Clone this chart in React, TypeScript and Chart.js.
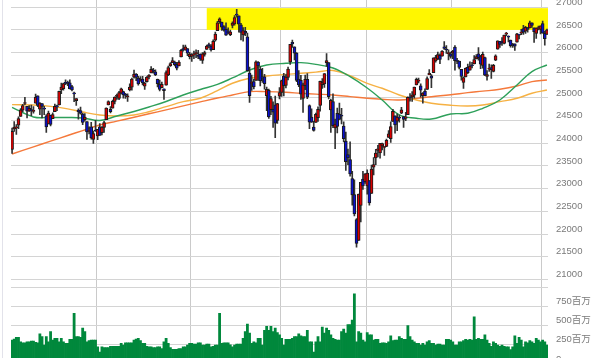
import React, { useEffect, useRef } from 'react';
import { Chart, registerables } from 'chart.js';

Chart.register(...registerables);

const dates: string[] = [
  '2018/05/04','2018/05/07','2018/05/08','2018/05/09','2018/05/10','2018/05/11','2018/05/14','2018/05/15','2018/05/16','2018/05/17','2018/05/18','2018/05/21','2018/05/22','2018/05/23','2018/05/24','2018/05/25','2018/05/29','2018/05/30','2018/05/31',
  '2018/06/01','2018/06/04','2018/06/05','2018/06/06','2018/06/07','2018/06/08','2018/06/11','2018/06/12','2018/06/13','2018/06/14','2018/06/15','2018/06/18','2018/06/19','2018/06/20','2018/06/21','2018/06/22','2018/06/25','2018/06/26','2018/06/27','2018/06/28','2018/06/29',
  '2018/07/02','2018/07/03','2018/07/05','2018/07/06','2018/07/09','2018/07/10','2018/07/11','2018/07/12','2018/07/13','2018/07/16','2018/07/17','2018/07/18','2018/07/19','2018/07/20','2018/07/23','2018/07/24','2018/07/25','2018/07/26','2018/07/27','2018/07/30','2018/07/31',
  '2018/08/01','2018/08/02','2018/08/03','2018/08/06','2018/08/07','2018/08/08','2018/08/09','2018/08/10','2018/08/13','2018/08/14','2018/08/15','2018/08/16','2018/08/17','2018/08/20','2018/08/21','2018/08/22','2018/08/23','2018/08/24','2018/08/27','2018/08/28','2018/08/29','2018/08/30','2018/08/31',
  '2018/09/04','2018/09/05','2018/09/06','2018/09/07','2018/09/10','2018/09/11','2018/09/12','2018/09/13','2018/09/14','2018/09/17','2018/09/18','2018/09/19','2018/09/20','2018/09/21','2018/09/24','2018/09/25','2018/09/26','2018/09/27','2018/09/28',
  '2018/10/01','2018/10/02','2018/10/03','2018/10/04','2018/10/05','2018/10/08','2018/10/09','2018/10/10','2018/10/11','2018/10/12','2018/10/15','2018/10/16','2018/10/17','2018/10/18','2018/10/19','2018/10/22','2018/10/23','2018/10/24','2018/10/25','2018/10/26','2018/10/29','2018/10/30','2018/10/31',
  '2018/11/01','2018/11/02','2018/11/05','2018/11/06','2018/11/07','2018/11/08','2018/11/09','2018/11/12','2018/11/13','2018/11/14','2018/11/15','2018/11/16','2018/11/19','2018/11/20','2018/11/21','2018/11/23','2018/11/26','2018/11/27','2018/11/28','2018/11/29','2018/11/30',
  '2018/12/03','2018/12/04','2018/12/06','2018/12/07','2018/12/10','2018/12/11','2018/12/12','2018/12/13','2018/12/14','2018/12/17','2018/12/18','2018/12/19','2018/12/20','2018/12/21','2018/12/24','2018/12/26','2018/12/27','2018/12/28','2018/12/31',
  '2019/01/02','2019/01/03','2019/01/04','2019/01/07','2019/01/08','2019/01/09','2019/01/10','2019/01/11','2019/01/14','2019/01/15','2019/01/16','2019/01/17','2019/01/18','2019/01/22','2019/01/23','2019/01/24','2019/01/25','2019/01/28','2019/01/29','2019/01/30','2019/01/31',
  '2019/02/01','2019/02/04','2019/02/05','2019/02/06','2019/02/07','2019/02/08','2019/02/11','2019/02/12','2019/02/13','2019/02/14','2019/02/15','2019/02/19','2019/02/20','2019/02/21','2019/02/22','2019/02/25','2019/02/26','2019/02/27','2019/02/28',
  '2019/03/01','2019/03/04','2019/03/05','2019/03/06','2019/03/07','2019/03/08','2019/03/11','2019/03/12','2019/03/13','2019/03/14','2019/03/15','2019/03/18','2019/03/19','2019/03/20','2019/03/21','2019/03/22','2019/03/25','2019/03/26','2019/03/27','2019/03/28','2019/03/29',
  '2019/04/01','2019/04/02','2019/04/03','2019/04/04','2019/04/05','2019/04/08','2019/04/09','2019/04/10','2019/04/11','2019/04/12','2019/04/15','2019/04/16','2019/04/17','2019/04/18','2019/04/22','2019/04/23','2019/04/24','2019/04/25','2019/04/26','2019/04/29','2019/04/30',
  '2019/05/01','2019/05/02','2019/05/03',
];

const opens: number[] = [
  23865,24317,24341,24399,24591,24730,24878,24818,24711,24746,24703,24883,25047,24752,24876,24772,24604,24425,24617,
  24542,24700,24830,24848,25177,25207,25336,25341,25333,25250,25093,24938,24733,24721,24643,24524,24481,24263,24362,24088,24294,
  24161,24362,24232,24351,24523,24846,24749,24777,24924,25033,24992,25108,25138,25066,25026,25176,25237,25459,25527,25441,25368,
  25414,25262,25360,25462,25553,25616,25578,25410,25306,25225,25202,25280,25507,25705,25780,25792,25743,25707,25906,26089,26053,26090,25913,
  25916,25946,25976,25929,25965,25826,25961,26068,26161,26142,26063,26274,26482,26683,26674,26574,26516,26445,26395,
  26598,26633,26833,26811,26615,26389,26467,26347,25548,25321,25363,25384,25789,25637,25454,25468,25052,25166,24741,24748,24849,24503,25039,
  25122,25483,25274,25452,25792,26228,26125,25988,25414,25389,24990,25269,25413,24831,24578,24360,24462,24563,24835,25295,25309,
  25779,25780,24737,24918,24341,24659,24644,24615,24379,24050,23751,23639,23224,22871,22317,21857,22629,23213,23153,
  23059,23177,22894,23474,23680,23844,23789,23940,23910,23932,24130,24100,24480,24606,24486,24581,24666,24589,24551,24631,25003,
  25025,25062,25286,25371,25265,25048,25153,25186,25511,25490,25560,25815,25863,25939,25920,26126,26061,25979,25975,
  25992,26123,25832,25815,25633,25342,25465,25678,25613,25722,25751,25862,25971,25911,25715,25890,25473,25634,25669,25583,25834,
  26076,26249,26255,26201,26409,26342,26277,26174,26192,26229,26399,26429,26530,26474,26525,26547,26659,26548,26425,26523,26509,
  26639,26427,26403,
];

const highs: number[] = [
  24334,24479,24412,24586,24766,24859,25012,24818,24834,24842,24812,25086,25047,24898,24876,24813,24635,24710,24621,
  24674,24866,24843,25153,25326,25326,25402,25372,25398,25276,25130,24988,24759,24799,24669,24656,24481,24366,24464,24271,24508,
  24307,24435,24368,24482,24784,24935,24809,24951,25025,25083,25144,25216,25153,25101,25093,25310,25437,25617,25539,25475,25470,
  25475,25344,25474,25518,25693,25652,25621,25417,25393,25351,25202,25598,25705,25781,25888,25813,25786,25825,26070,26167,26167,26091,26007,
  25980,26036,26062,26052,25971,26001,26035,26165,26211,26176,26283,26451,26690,26769,26674,26598,26656,26545,26499,
  26679,26817,26952,26811,26644,26552,26560,26429,25681,25504,25419,25819,25801,25691,25653,25519,25238,25196,25038,24916,25041,24880,25230,
  25396,25541,25514,25679,26185,26277,26125,26002,25603,25501,25330,25505,25536,24851,24760,24483,24669,24803,25374,25425,25538,
  25980,25781,24975,25090,24537,24778,24885,24773,24476,24250,23875,24034,23380,23196,22339,22879,23140,23382,23333,
  23413,23177,23518,23688,23865,23953,24002,24005,23910,24093,24278,24472,24750,24607,24649,24624,24793,24589,24684,25026,25097,
  25140,25239,25440,25439,25314,25117,25199,25464,25626,25516,25883,25941,26014,25975,26042,26242,26154,26061,26011,
  26050,26156,25873,25815,25633,25466,25666,25747,25794,25785,25934,25956,26110,25941,26009,25902,25602,25745,25728,25741,25950,
  26259,26249,26332,26385,26445,26368,26277,26207,26192,26424,26403,26511,26599,26580,26560,26695,26659,26548,26544,26585,26593,
  26696,26475,26520,
];

const lows: number[] = [
  23778,24263,24198,24323,24591,24697,24854,24561,24705,24609,24664,24883,24808,24633,24562,24631,24242,24425,24385,
  24542,24700,24720,24848,25095,25173,25293,25270,25201,25153,24917,24837,24534,24645,24410,24489,24084,24209,24092,23997,24263,
  24082,24174,24183,24241,24523,24846,24669,24777,24867,24968,24963,25087,24995,24988,24926,25156,25172,25438,25379,25280,25368,
  25286,25187,25349,25418,25553,25547,25491,25241,25153,25225,24966,25280,25493,25694,25780,25705,25617,25707,25906,26030,26052,25934,25861,
  25803,25869,25888,25865,25830,25764,25920,26068,26108,26032,26063,26254,26482,26643,26489,26474,26378,26417,26376,
  26545,26607,26783,26453,26278,26251,26374,25590,24900,25167,25200,25384,25384,25268,25345,25195,24720,24550,24632,24348,24123,24438,24979,
  25035,25047,25221,25398,25740,26117,25841,25357,25250,24966,24681,25182,24985,24322,24458,24269,24462,24485,24709,25209,25232,
  25693,24981,24242,24345,23881,24229,24527,24427,24031,23403,23527,23275,22638,22397,21712,21857,22267,22981,23118,
  22879,22638,22894,23301,23530,23701,23675,23853,23735,23925,24130,24018,24480,24221,24278,24468,24651,24348,24498,24631,24929,
  24924,24993,25286,25331,25015,24884,25045,25186,25511,25228,25560,25791,25844,25757,25920,26072,25980,25839,25880,
  25869,25611,25756,25640,25391,25208,25465,25535,25613,25663,25751,25862,25832,25647,25658,25490,25392,25585,25433,25574,25823,
  26076,26116,26161,26193,26375,26234,26120,26115,26047,26229,26300,26393,26400,26422,26450,26547,26556,26225,26312,26499,26412,
  26430,26163,26403,
];

const closes: number[] = [
  24263,24357,24360,24543,24740,24831,24899,24706,24769,24714,24715,25013,24834,24887,24812,24753,24361,24668,24416,
  24635,24814,24800,25146,25241,25317,25322,25321,25201,25175,25090,24987,24700,24658,24462,24581,24253,24283,24118,24216,24271,
  24307,24175,24357,24456,24777,24920,24700,24925,25019,25064,25120,25199,25065,25058,25044,25242,25414,25527,25451,25307,25415,
  25334,25326,25463,25502,25629,25584,25509,25313,25188,25300,25162,25559,25669,25759,25822,25734,25657,25790,26050,26064,26125,25987,25965,
  25952,25975,25996,25917,25857,25971,25999,26146,26155,26062,26247,26406,26657,26744,26562,26492,26385,26440,26458,
  26651,26774,26828,26627,26447,26487,26431,25599,25053,25340,25251,25798,25707,25379,25444,25317,25191,24583,24985,24688,24443,24875,25116,
  25381,25271,25462,25635,26180,26191,25989,25387,25286,25081,25289,25413,25017,24466,24465,24286,24640,24749,25366,25339,25538,
  25826,25027,24948,24389,24423,24370,24527,24597,24101,23593,23676,23324,22860,22445,21792,22878,23139,23062,23327,
  23346,22686,23433,23531,23787,23879,24002,23996,23910,24066,24207,24370,24706,24404,24576,24553,24737,24528,24580,25015,25000,
  25064,25239,25412,25390,25170,25106,25053,25426,25543,25439,25883,25891,25954,25851,26032,26092,26058,25985,25916,
  26026,25820,25807,25673,25473,25450,25651,25555,25703,25710,25849,25914,25887,25746,25963,25502,25517,25658,25626,25717,25929,
  26258,26179,26218,26385,26425,26341,26151,26157,26143,26412,26385,26453,26450,26560,26511,26656,26597,26462,26543,26554,26593,
  26430,26308,26505,
];

// volume in 百万 (millions)
const volumes: number[] = [
  313,326,348,348,290,277,277,290,290,299,299,281,277,393,357,246,357,290,424,313,335,335,290,335,290,268,268,322,322,660,357,357,348,469,424,290,304,313,313,313,223,157,223,215,215,215,232,232,232,232,232,
  268,246,277,277,277,277,313,326,335,304,268,268,232,223,223,215,215,223,223,201,290,335,268,215,192,192,192,201,201,223,223,246,268,268,259,259,277,277,246,246,259,259,223,232,246,246,660,268,277,277,277,250,
  223,246,259,259,259,335,424,522,402,268,290,277,335,335,246,438,491,438,491,424,469,411,380,335,246,322,322,322,335,357,357,393,366,357,357,438,290,290,157,290,357,290,482,402,469,438,380,335,322,313,313,
  424,455,402,513,513,571,914,290,424,402,313,290,411,380,380,313,322,322,268,277,277,268,290,366,304,313,313,357,335,322,322,500,357,313,290,268,268,246,268,246,290,304,268,268,246,259,259,246,246,322,322,
  313,290,246,246,290,290,304,322,313,322,313,616,322,335,322,322,380,313,268,232,290,268,246,232,246,232,223,223,187,223,366,268,348,313,223,290,277,304,290,268,335,313,290,313,290,246,
];

// moving averages, sampled at these candle indices
const maIdx: number[] = [0,10,18,26,33,41,49,57,64,72,80,88,96,103,111,119,128,135,142,150,158,166,173,181,189,196,205,213,220,228,236,243,250];
const maGreen: number[] = [24794,24581,24570,24570,24559,24503,24603,24702,24801,24922,25066,25187,25300,25441,25617,25727,25765,25778,25740,25660,25469,25220,24955,24625,24552,24536,24647,24662,24772,24955,25286,25580,25727];
const maYellow: number[] = [24852,24845,24815,24760,24690,24625,24603,24625,24697,24808,24918,24993,25160,25324,25434,25485,25520,25544,25570,25605,25490,25320,25214,25066,24955,24883,24840,24823,24845,24918,24993,25103,25176];
const maOrange: number[] = [23765,23923,24047,24172,24281,24404,24488,24574,24651,24737,24825,24914,25000,25066,25139,25139,25125,25103,25085,25066,25030,24993,24970,24955,24990,25028,25070,25117,25150,25191,25264,25359,25397];

const priceTicks: number[] = [21000,21500,22000,22500,23000,23500,24000,24500,25000,25500,26000,26500,27000];
const volumeTicks: number[] = [0,250,500,750,1000];
const monthLineDates: string[] = ['2018/07/02','2018/09/04','2018/11/01','2019/01/02','2019/03/01','2019/05/01'];
const highlightStart = '2018/09/13';
const highlightLow = 26500;
const highlightHigh = 26980;

const FONT = "'Liberation Sans', Arial, 'Noto Sans CJK JP', sans-serif";

const fitRight = (s: any) => {
  s.width = 52;
  s.paddingTop = 0;
  s.paddingBottom = 0;
  s.paddingLeft = 0;
  s.paddingRight = 0;
};

export default function App() {
  const ref = useRef<HTMLCanvasElement | null>(null);

  useEffect(() => {
    if (!ref.current) return;
    const monthSet = new Set(monthLineDates.map((d) => dates.indexOf(d)));

    const highlightPlugin = {
      id: 'highlightBox',
      beforeDatasetsDraw(chart: any) {
        const { ctx, chartArea, scales } = chart;
        const x0 = scales.x.getPixelForValue(dates.indexOf(highlightStart));
        const yTop = scales.y.getPixelForValue(highlightHigh);
        const yBot = scales.y.getPixelForValue(highlightLow);
        ctx.save();
        ctx.fillStyle = '#fff700';
        ctx.fillRect(x0, yTop, chartArea.right - x0, yBot - yTop);
        ctx.restore();
      },
    };

    const line = (vals: number[], color: string) => ({
      type: 'line' as const,
      data: maIdx.map((k, j) => ({ x: dates[k], y: vals[j] })),
      borderColor: color,
      borderWidth: 1.4,
      pointRadius: 0,
      tension: 0.4,
      yAxisID: 'y',
      order: 3,
    });

    const tickFont = { size: 9.5, family: FONT };

    const chart = new Chart(ref.current, {
      type: 'bar',
      data: {
        labels: dates,
        datasets: [
          {
            type: 'bar',
            data: opens.map((o, i) => [o, closes[i]]),
            backgroundColor: closes.map((c, i) => (c >= opens[i] ? '#d90000' : '#0a10d0')),
            borderColor: '#1a1a1a',
            borderWidth: 1,
            borderSkipped: false,
            barThickness: 3,
            minBarLength: 1,
            grouped: false,
            yAxisID: 'y',
            order: 1,
          } as any,
          {
            type: 'bar',
            data: lows.map((l, i) => [l, highs[i]]),
            backgroundColor: '#333333',
            barThickness: 1,
            grouped: false,
            yAxisID: 'y',
            order: 2,
          } as any,
          line(maGreen, '#2ea05a') as any,
          line(maYellow, '#f6b143') as any,
          line(maOrange, '#f5793b') as any,
          {
            type: 'bar',
            data: volumes,
            backgroundColor: '#00883c',
            barPercentage: 1,
            categoryPercentage: 1,
            grouped: false,
            yAxisID: 'v',
            order: 4,
          } as any,
        ],
      },
      options: {
        animation: false,
        responsive: false,
        devicePixelRatio: 1,
        layout: { padding: { left: 11, right: 0, top: 0, bottom: 0 } },
        plugins: { legend: { display: false }, tooltip: { enabled: false } },
        scales: {
          x: {
            type: 'category',
            offset: true,
            afterFit: (s: any) => {
              s.height = 0;
              s.paddingLeft = 0;
              s.paddingRight = 0;
              s.paddingTop = 0;
              s.paddingBottom = 0;
            },
            grid: {
              offset: true,
              drawTicks: false,
              lineWidth: 1,
              color: (c: any) => (monthSet.has(c.index) ? '#cacaca' : 'rgba(0,0,0,0)'),
            },
            ticks: { display: false, autoSkip: false },
            border: { display: false },
          },
          y: {
            type: 'linear',
            position: 'right',
            stack: 'panes',
            stackWeight: 287.3,
            min: 20825,
            max: 27160,
            afterBuildTicks: (s: any) => {
              s.ticks = priceTicks.map((v) => ({ value: v }));
            },
            afterFit: fitRight,
            grid: { color: '#d4d4d4', drawTicks: false },
            border: { display: false },
            ticks: {
              autoSkip: false,
              padding: 8,
              labelOffset: -5,
              color: '#7a7a7a',
              font: tickFont,
              callback: (v: any) => String(v),
            },
          },
          v: {
            type: 'linear',
            position: 'right',
            stack: 'panes',
            stackWeight: 76.7,
            min: 0,
            max: 1000,
            afterBuildTicks: (s: any) => {
              s.ticks = volumeTicks.map((v) => ({ value: v }));
            },
            afterFit: fitRight,
            grid: { color: '#d4d4d4', drawTicks: false },
            border: { display: false },
            ticks: {
              autoSkip: false,
              padding: 8,
              labelOffset: -5,
              color: '#7a7a7a',
              font: tickFont,
              callback: (v: any) => (v === 0 ? '0' : v === 1000 ? '' : v + '百万'),
            },
          },
        },
      } as any,
      plugins: [highlightPlugin],
    });
    return () => chart.destroy();
  }, []);

  return (
    <div
      style={{
        position: 'fixed',
        left: 0,
        top: 0,
        width: 600,
        height: 358,
        overflow: 'hidden',
        background: '#ffffff',
      }}
    >
      <div style={{ position: 'absolute', left: 2, top: 0, width: 1, height: 358, background: '#e2e2ea' }} />
      <canvas ref={ref} width={600} height={364} style={{ display: 'block', position: 'absolute', left: 0, top: 0 }} />
    </div>
  );
}
